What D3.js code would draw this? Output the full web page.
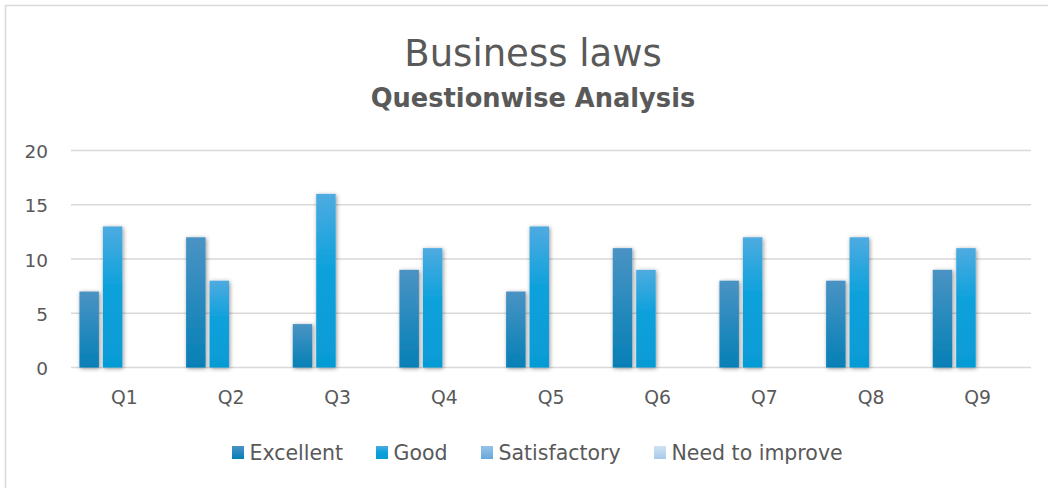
<!DOCTYPE html>
<html>
<head>
<meta charset="utf-8">
<script src="https://cdn.jsdelivr.net/npm/d3@7"></script>
<style>
  html, body { margin: 0; padding: 0; background: #fff; }
  svg { display: block; font-family: "DejaVu Sans", sans-serif; }
</style>
</head>
<body>
<svg id="chart" width="1048" height="488"></svg>
<script>
const categories = ["Q1", "Q2", "Q3", "Q4", "Q5", "Q6", "Q7", "Q8", "Q9"];
const seriesNames = ["Excellent", "Good", "Satisfactory", "Need to improve"];
const excellent = [7, 12, 4, 9, 7, 11, 8, 8, 9];
const good = [13, 8, 16, 11, 13, 9, 12, 12, 11];
const satisfactory = [0, 0, 0, 0, 0, 0, 0, 0, 0];
const needToImprove = [0, 0, 0, 0, 0, 0, 0, 0, 0];
const yTicks = [0, 5, 10, 15, 20];

const seriesValues = [excellent, good, satisfactory, needToImprove];
const gradStops = [
  [["0%", "#4a93c4"], ["100%", "#0580b6"]],
  [["0%", "#4eabe0"], ["45%", "#0ba1dc"], ["100%", "#069bd5"]],
  [["0%", "#96c3e8"], ["100%", "#68a7da"]],
  [["0%", "#cfe3f3"], ["100%", "#a7c9e7"]]
];

const svg = d3.select("#chart");
const defs = svg.append("defs");
gradStops.forEach((stops, i) => {
  const g = defs.append("linearGradient").attr("id", "grad" + i)
    .attr("x1", 0).attr("y1", 0).attr("x2", 0).attr("y2", 1);
  stops.forEach(s => g.append("stop").attr("offset", s[0]).attr("stop-color", s[1]));
});
const f = defs.append("filter").attr("id", "shadow")
  .attr("x", "-50%").attr("y", "-10%").attr("width", "200%").attr("height", "120%");
f.append("feDropShadow").attr("dx", 1).attr("dy", 1).attr("stdDeviation", 2.2)
  .attr("flood-color", "#000").attr("flood-opacity", 0.42);

// chart border
svg.append("rect").attr("x", 5.5).attr("y", 5.5).attr("width", 1100).attr("height", 600)
  .attr("fill", "none").attr("stroke", "#d9d9d9").attr("stroke-width", 1.5);

// titles
svg.append("text").attr("x", 533).attr("y", 66).attr("text-anchor", "middle")
  .attr("font-size", 37).attr("fill", "#595959").text("Business laws");
svg.append("text").attr("x", 533).attr("y", 107).attr("text-anchor", "middle")
  .attr("font-size", 25.7).attr("font-weight", "bold").attr("fill", "#595959").text("Questionwise Analysis");

const x = d3.scaleBand().domain(categories).range([71, 1031]).paddingInner(0).paddingOuter(0);
const xs = d3.scaleBand().domain(seriesNames).range([0, x.bandwidth()]).paddingInner(0.17).paddingOuter(0.36);
const y = d3.scaleLinear().domain([0, 20]).range([367.5, 150.5]);

// gridlines
svg.append("g").selectAll("line").data(yTicks).join("line")
  .attr("x1", 71).attr("x2", 1031)
  .attr("y1", d => y(d)).attr("y2", d => y(d))
  .attr("stroke", "#d9d9d9").attr("stroke-width", 1.5);

// y axis labels
const yAxis = svg.append("g").attr("transform", "translate(48,0)")
  .call(d3.axisLeft(y).tickValues(yTicks).tickSize(0).tickPadding(0));
yAxis.select(".domain").remove();
yAxis.selectAll("text").attr("font-size", 18.5).attr("fill", "#595959").attr("dy", "0.38em")
  .attr("font-family", "\"DejaVu Sans\", sans-serif");

// x axis labels
const xAxis = svg.append("g").attr("transform", "translate(0,380)")
  .call(d3.axisBottom(x).tickSize(0).tickPadding(11));
xAxis.select(".domain").remove();
xAxis.selectAll("text").attr("font-size", 18.8).attr("fill", "#595959")
  .attr("font-family", "\"DejaVu Sans\", sans-serif");

// bars
const groups = svg.append("g").selectAll("g").data(categories).join("g")
  .attr("transform", d => `translate(${x(d)},0)`);
groups.selectAll("rect")
  .data((d, ci) => seriesNames.map((s, si) => ({ s, si, v: seriesValues[si][ci] })))
  .join("rect")
  .filter(d => d.v > 0)
  .attr("x", d => xs(d.s))
  .attr("width", xs.bandwidth())
  .attr("y", d => y(d.v))
  .attr("height", d => y(0) - y(d.v))
  .attr("fill", d => `url(#grad${d.si})`)
  .attr("filter", "url(#shadow)");

// legend
const legendX = [232, 376, 481, 654];
const leg = svg.append("g").selectAll("g").data(seriesNames).join("g")
  .attr("transform", (d, i) => `translate(${legendX[i]},446)`);
leg.append("rect").attr("width", 12).attr("height", 13)
  .attr("fill", (d, i) => `url(#grad${i})`);
leg.append("text").attr("x", 17.5).attr("y", 14).attr("font-size", 20.5)
  .attr("fill", "#595959").text(d => d);
</script>
</body>
</html>
